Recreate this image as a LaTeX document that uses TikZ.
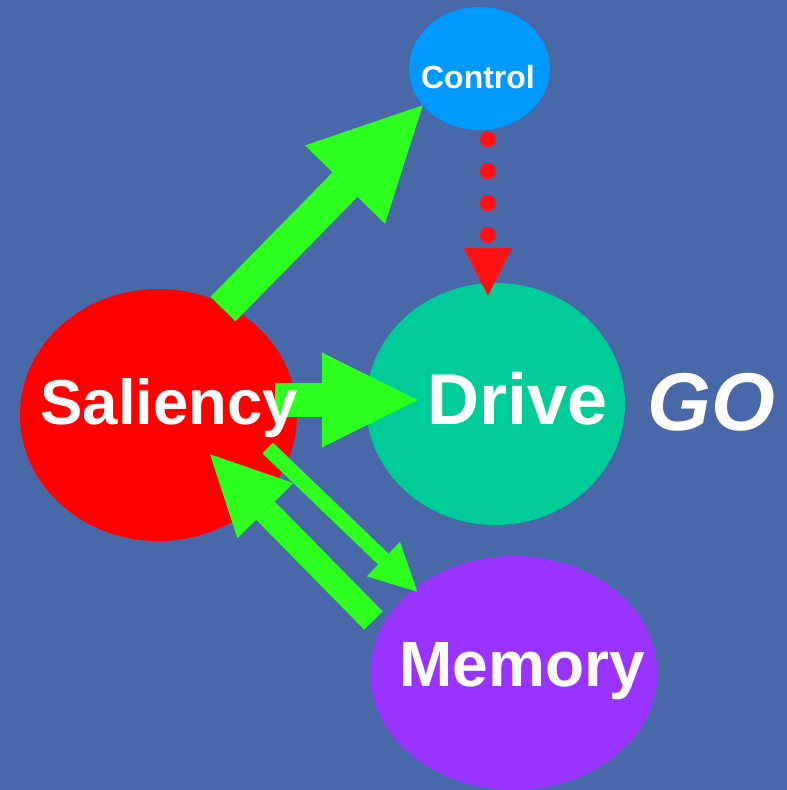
\documentclass[tikz,border=0pt]{standalone}
\usepackage{fontspec}
\setmainfont{Liberation Sans}
\usetikzlibrary{shapes.geometric,arrows.meta}
\definecolor{bgblue}{RGB}{72,104,168}
\definecolor{ctlblue}{RGB}{0,153,255}
\definecolor{drvteal}{RGB}{0,204,153}
\definecolor{mempurple}{RGB}{153,51,255}
\definecolor{salred}{RGB}{255,0,0}
\definecolor{flowgreen}{RGB}{45,255,30}
\definecolor{dotred}{RGB}{255,17,17}
\begin{document}
\begin{tikzpicture}[x=1pt,y=-1pt,
  blob/.style={ellipse,draw=none,inner sep=0pt},
  word/.style={anchor=base,inner sep=0pt,text=white,font=\bfseries},
  flow/.style={draw=flowgreen,line cap=butt},
  ctrlflow/.style={draw=dotred,line width=16pt,line cap=round,
    dash pattern=on 0pt off 32pt,dash phase=23pt,
    -{Triangle[length=48pt,width=48pt,line width=0pt,fill=dotred]}}
]
% backdrop
\fill[bgblue] (0,0) rectangle (787,790);
\useasboundingbox (0,0) rectangle (787,790);

% the four units
\node[blob,fill=ctlblue,minimum width=141pt,minimum height=123pt] (ctl) at (479.5,68.5) {};
\node[blob,fill=salred,minimum width=277pt,minimum height=252pt] (sal) at (158.5,415) {};
\node[blob,fill=drvteal,minimum width=259pt,minimum height=242pt] (drv) at (495.5,404) {};
\node[blob,fill=mempurple,minimum width=287pt,minimum height=234pt] (mem) at (514,673) {};

% control gating (dotted)
\draw[ctrlflow] ([xshift=8.5]ctl.south) -- ([shift={(-7.5,13)}]drv.north);

% saliency -> control
\draw[flow,line width=35pt,-{Triangle[length=111pt,width=112pt,line width=0pt,fill=flowgreen]}]
  ([shift={(64.5,-106)}]sal.center) -- (ctl.213.6);
% saliency -> drive
\draw[flow,line width=34pt,-{Triangle[length=96pt,width=95pt,line width=0pt,fill=flowgreen]}]
  ([shift={(-22,-15)}]sal.east) -- ([shift={(52,-4)}]drv.west);
% memory -> saliency
\draw[flow,line width=26pt,-{Triangle[length=79pt,width=78.5pt,line width=0pt,fill=flowgreen]}]
  ([shift={(-140.5,-52.5)}]mem.center) -- ([shift={(51.5,39.3)}]sal.center);
% saliency -> memory
\draw[flow,line width=15pt,-{Triangle[length=47pt,width=48pt,line width=0pt,fill=flowgreen]}]
  ([shift={(109.2,33)}]sal.center) -- ([shift={(-96.7,-81.3)}]mem.center);

% labels
\node[word,font=\bfseries\fontsize{32}{36}\selectfont] (ctlt) at (478,88.3) {Control};
\node[word,font=\bfseries\fontsize{63.5}{70}\selectfont] (salt) at (169.3,424) {Saliency};
\node[word,font=\bfseries\fontsize{72}{78}\selectfont] (drvt) at (517.3,424) {Drive};
\node[word,font=\bfseries\itshape\fontsize{82}{88}\selectfont] (go) at (711,430.5) {GO};
\node[word,font=\bfseries\fontsize{64}{70}\selectfont] (memt) at (522,686.7) {Memory};
\end{tikzpicture}
\end{document}
